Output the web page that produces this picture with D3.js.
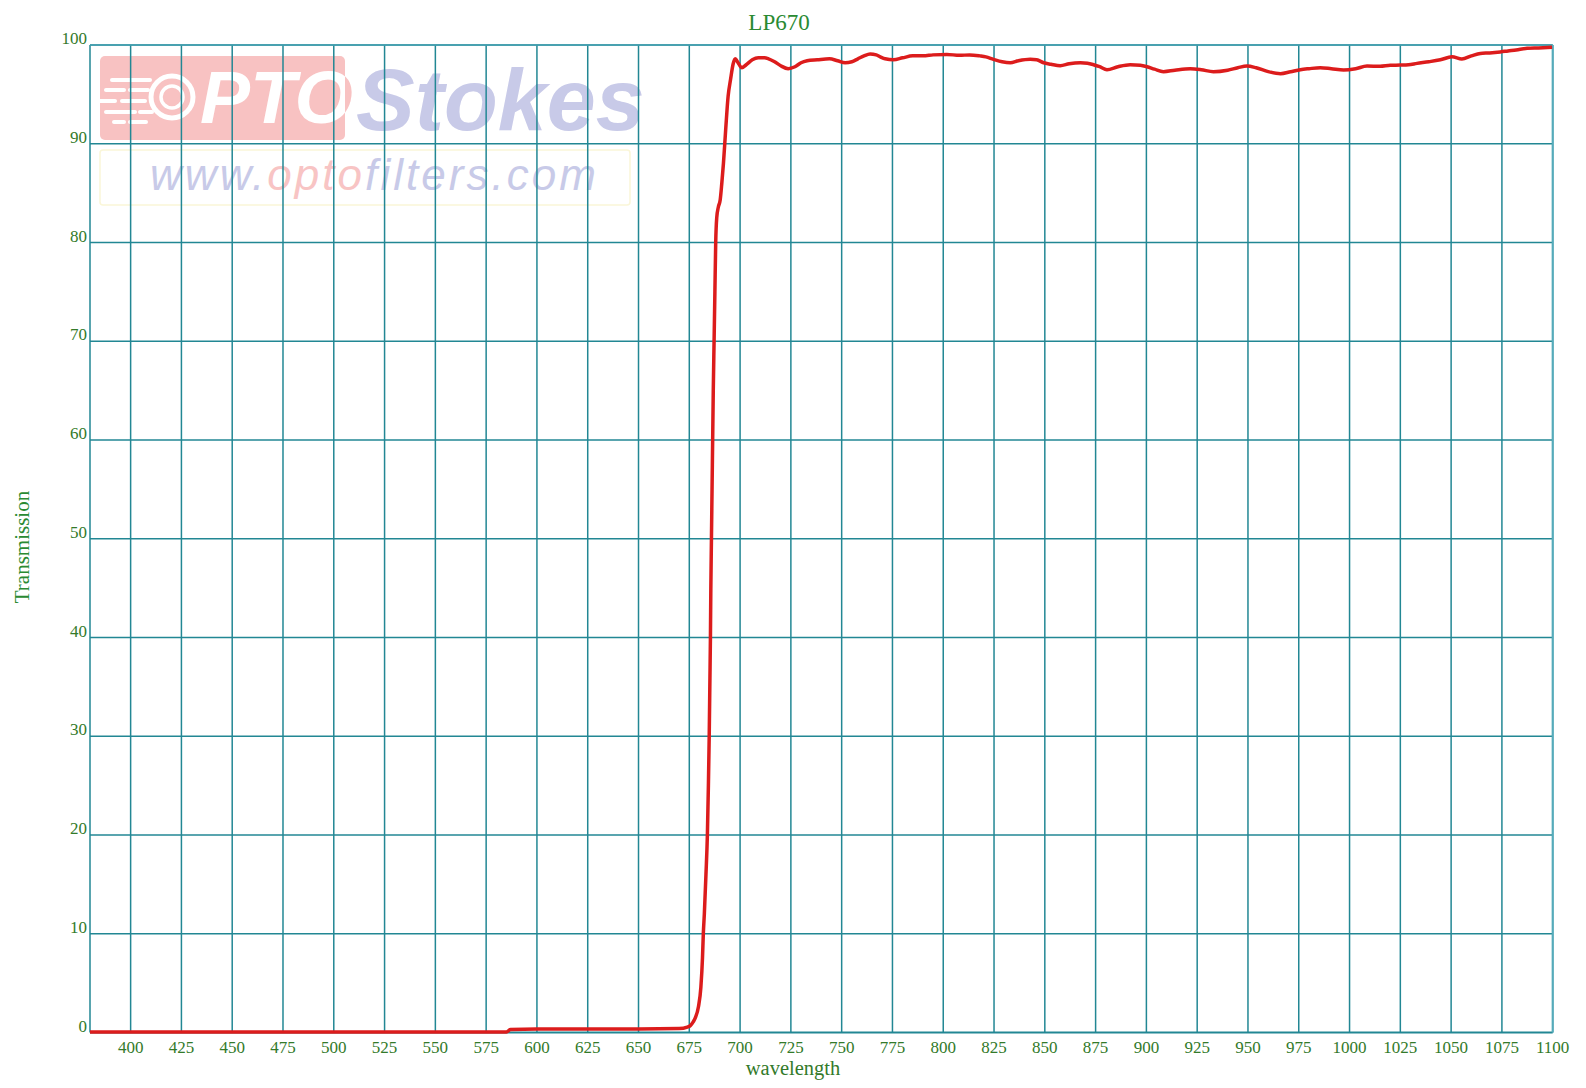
<!DOCTYPE html>
<html>
<head>
<meta charset="utf-8">
<script src="https://cdn.jsdelivr.net/npm/d3@7"></script>
<style>
  html, body { margin: 0; padding: 0; background: #ffffff; }
  svg { display: block; }
</style>
</head>
<body>
<svg id="chart" width="1586" height="1088"></svg>
<script>
// ---- data ----
const title = "LP670";
const xLabel = "wavelength";
const yLabel = "Transmission";
const xTicks = [400,425,450,475,500,525,550,575,600,625,650,675,700,725,750,775,800,825,850,875,900,925,950,975,1000,1025,1050,1075,1100];
const yTicks = [0,10,20,30,40,50,60,70,80,90,100];
const wavelength = [380,585,587,600,650,670,674,675.5,677,678,679.5,680.7,681.5,681.9,682.4,683.2,683.9,684.4,684.8,685.1,685.4,685.6,685.9,686.2,686.5,686.8,687.2,687.6,688.0,688.5,689.3,690.2,691.0,691.8,692.9,694.1,695.3,696.6,697.6,699,700.8,703,706,709,712,714,717,720,723.7,727,730,733,738,744,748,751.7,755,758,761,764,767,769,771.4,775.5,780,785,790,795,801.8,808,813,818,821,824.7,829,833,837,842.8,846,849.4,853,857.6,862,867.5,871,874,877,880.6,886,892,897,900.3,904,908.4,914,921.6,927,933,940,945,949.5,954,960,966,971,975.8,980,985.6,991,997.1,1003,1008.6,1015,1020,1025,1029,1033.2,1039,1044.7,1050.4,1055.3,1060,1064.4,1069,1074.2,1078,1082,1087.4,1093,1099.7];
const transmission = [0.05,0.05,0.3,0.35,0.35,0.4,0.55,0.7,1.1,1.5,2.6,4.6,7.6,10,12,16,20,25,30,35,40,45,50,55,60,65,70,75,80,82.5,83.6,84.3,86,88,91.4,94.8,96.5,98.1,98.6,98.2,97.7,98.0,98.5,98.7,98.7,98.6,98.3,97.9,97.6,97.8,98.2,98.4,98.5,98.6,98.4,98.2,98.3,98.6,98.9,99.1,99.0,98.8,98.6,98.5,98.7,98.9,98.9,99.0,99.05,98.95,99.0,98.9,98.8,98.55,98.3,98.2,98.4,98.55,98.5,98.2,98.05,97.9,98.1,98.2,98.15,98.0,97.8,97.5,97.8,98.0,97.95,97.8,97.55,97.3,97.45,97.6,97.5,97.3,97.45,97.7,97.87,97.7,97.3,97.1,97.3,97.5,97.6,97.7,97.6,97.47,97.6,97.87,97.85,97.95,97.97,98.0,98.14,98.3,98.5,98.8,98.58,98.9,99.15,99.2,99.3,99.4,99.5,99.66,99.7,99.76];

// ---- layout ----
const svg = d3.select("#chart");
const pLeft = 90, pRight = 1552.7, pTop = 45, pBottom = 1032.5;
const x = d3.scaleLinear().domain([380, 1100]).range([pLeft, pRight]);
const y = d3.scaleLinear().domain([0, 100]).range([pBottom, pTop]);
const green = "#337a2a";
const gridColor = "#228794";
const serif = "'Liberation Serif', 'Times New Roman', serif";
const sans = "'Liberation Sans', Arial, sans-serif";

// ---- watermark ----
const wm = svg.append("g").attr("class", "watermark");
wm.append("rect").attr("x", 100).attr("y", 150).attr("width", 530).attr("height", 55)
  .attr("fill", "none").attr("stroke", "#faf6d8").attr("stroke-width", 1.5).attr("rx", 3);
wm.append("rect").attr("x", 100).attr("y", 56).attr("width", 245).attr("height", 84)
  .attr("rx", 5).attr("fill", "#f8c2c2");
wm.append("circle").attr("cx", 172).attr("cy", 97).attr("r", 21).attr("fill", "none")
  .attr("stroke", "#ffffff").attr("stroke-width", 5);
wm.append("circle").attr("cx", 172).attr("cy", 97).attr("r", 11).attr("fill", "none")
  .attr("stroke", "#ffffff").attr("stroke-width", 3.5);
const dashes = [[112,150,80],[106,124,90],[130,148,90],[100,115,101],[122,145,101],[106,135,112],[140,152,112],[114,124,122],[130,146,122]];
dashes.forEach(d => wm.append("line").attr("x1", d[0]).attr("x2", d[1]).attr("y1", d[2]).attr("y2", d[2])
  .attr("stroke", "#ffffff").attr("stroke-width", 4).attr("stroke-linecap", "round"));
const defs = svg.append("defs");
defs.append("clipPath").attr("id", "boxclip").append("rect")
  .attr("x", 100).attr("y", 56).attr("width", 245).attr("height", 84);
wm.append("text").attr("x", 200).attr("y", 123).attr("font-family", sans).attr("font-weight", "bold")
  .attr("font-style", "italic").attr("font-size", 75).attr("fill", "#f8c2c2").text("PTO");
wm.append("text").attr("x", 200).attr("y", 123).attr("font-family", sans).attr("font-weight", "bold")
  .attr("font-style", "italic").attr("font-size", 75).attr("fill", "#ffffff")
  .attr("clip-path", "url(#boxclip)").text("PTO");
wm.append("text").attr("x", 356).attr("y", 130).attr("font-family", sans).attr("font-weight", "bold")
  .attr("font-style", "italic").attr("font-size", 88).attr("fill", "#c8cae8").text("Stokes");
const url = wm.append("text").attr("x", 150).attr("y", 190).attr("font-family", sans)
  .attr("font-style", "italic").attr("font-size", 44).attr("textLength", 446).attr("lengthAdjust", "spacing");
url.append("tspan").attr("fill", "#c8cae8").text("www.");
url.append("tspan").attr("fill", "#f8c4c4").text("opto");
url.append("tspan").attr("fill", "#c8cae8").text("filters.com");

// ---- grid ----
const grid = svg.append("g").attr("class", "grid");
grid.selectAll("line.h").data(yTicks).join("line").attr("class", "h")
  .attr("x1", pLeft).attr("x2", pRight).attr("y1", d => y(d)).attr("y2", d => y(d))
  .attr("stroke", gridColor).attr("stroke-width", d => d === 0 ? 2.2 : 1.5);
grid.selectAll("line.v").data([380].concat(xTicks)).join("line").attr("class", "v")
  .attr("y1", pTop).attr("y2", pBottom).attr("x1", d => x(d)).attr("x2", d => x(d))
  .attr("stroke", gridColor).attr("stroke-width", 1.5);
grid.append("line").attr("x1", pLeft).attr("x2", pRight).attr("y1", pTop).attr("y2", pTop)
  .attr("stroke", "#45a0b0").attr("stroke-width", 1.6);
grid.append("line").attr("x1", pRight).attr("x2", pRight).attr("y1", pTop).attr("y2", pBottom)
  .attr("stroke", "#55abbb").attr("stroke-width", 2);

// ---- tick labels ----
svg.append("g").selectAll("text").data(yTicks).join("text")
  .attr("x", pLeft - 3).attr("y", d => y(d) - 1).attr("text-anchor", "end")
  .attr("font-family", serif).attr("font-size", 17).attr("fill", green).text(d => d);
svg.append("g").selectAll("text").data(xTicks).join("text")
  .attr("x", d => x(d)).attr("y", 1052.5).attr("text-anchor", "middle")
  .attr("font-family", serif).attr("font-size", 17).attr("fill", green).text(d => d);

// ---- titles ----
svg.append("text").attr("x", 779).attr("y", 30).attr("text-anchor", "middle")
  .attr("font-family", serif).attr("font-size", 23).attr("fill", "#2a8a32").text(title);
svg.append("text").attr("x", 793).attr("y", 1075).attr("text-anchor", "middle")
  .attr("font-family", serif).attr("font-size", 20.5).attr("fill", green).text(xLabel);
svg.append("text").attr("transform", "translate(29,547) rotate(-90)").attr("text-anchor", "middle")
  .attr("font-family", serif).attr("font-size", 21).attr("fill", "#2a8a32").text(yLabel);

// ---- curve ----
const pts = wavelength.map((w, i) => [w, transmission[i]]);
const line = d3.line().x(d => x(d[0])).y(d => y(d[1])).curve(d3.curveMonotoneX);
svg.append("path").datum(pts).attr("d", line).attr("fill", "none")
  .attr("stroke", "#dc1c1c").attr("stroke-width", 3.5).attr("stroke-linejoin", "round");
</script>
</body>
</html>
